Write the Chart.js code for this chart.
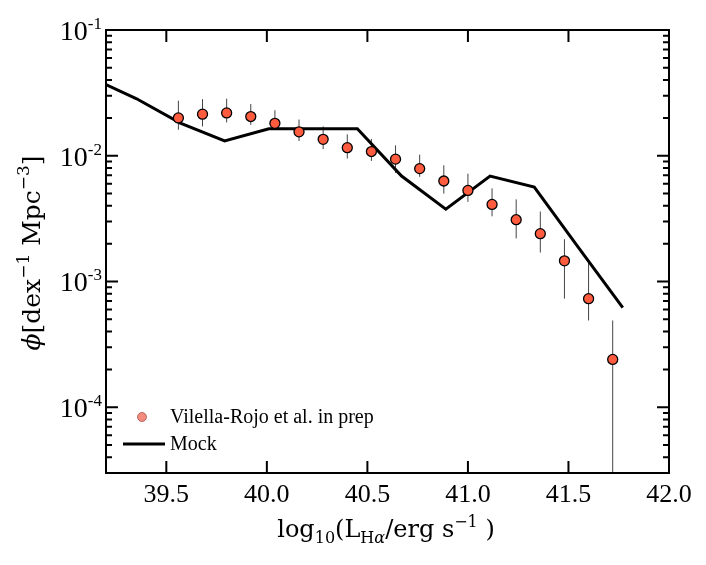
<!DOCTYPE html>
<html>
<head>
<meta charset="utf-8">
<script src="https://cdn.jsdelivr.net/npm/chart.js@4.4.1/dist/chart.umd.min.js"></script>
<style>
  html, body { margin: 0; padding: 0; background: #fff; }
  canvas { display: block; }
</style>
</head>
<body>
<canvas id="lfChart" width="706" height="565"></canvas>
<script>
// observed H-alpha luminosity function (points + error bars)
const lumBins = [39.56, 39.68, 39.80, 39.92, 40.04, 40.16, 40.28, 40.40, 40.52, 40.64,
                 40.76, 40.88, 41.00, 41.12, 41.24, 41.36, 41.48, 41.60, 41.72];
const phiObs = [0.0200, 0.0214, 0.0219, 0.0205, 0.0181, 0.0155, 0.0135, 0.0116, 0.0108, 0.0094,
                0.0079, 0.0063, 0.0053, 0.0041, 0.0031, 0.0024, 0.00146, 0.00073, 0.00024];
const phiHi = [0.0274, 0.0282, 0.0284, 0.0258, 0.0230, 0.0194, 0.0171, 0.0148, 0.0136, 0.0121,
               0.0102, 0.0084, 0.0072, 0.0055, 0.0045, 0.0036, 0.00217, 0.00142, 0.00049];
const phiLo = [0.0161, 0.0171, 0.0184, 0.0176, 0.0166, 0.0131, 0.0113, 0.0095, 0.0091, 0.0073,
               0.0068, 0.0050, 0.0043, 0.0033, 0.0022, 0.0017, 0.00073, 0.00049, 0.00001];

// mock catalogue
const mockLum = [39.13, 39.35, 39.57, 39.79, 40.01, 40.23, 40.45, 40.67, 40.89, 41.11, 41.33, 41.55, 41.77];
const mockPhi = [0.0414, 0.0285, 0.0182, 0.0131, 0.0164, 0.0164, 0.0164, 0.0069, 0.00376, 0.0069,
                 0.00564, 0.00186, 0.00062];

// axes
const xTicks = [39.5, 40.0, 40.5, 41.0, 41.5, 42.0];
const yTicks = [1e-1, 1e-2, 1e-3, 1e-4];
const yTickExp = ["-1", "-2", "-3", "-4"];

const SERIF = '"Liberation Serif", "DejaVu Serif", serif';
const WIDE = '"DejaVu Serif", "Liberation Serif", serif';

// draw a run of text pieces with sub/superscripts
function drawRich(ctx, parts, x, y, align, family) {
    const fam = family || SERIF;
    let total = 0;
    parts.forEach(p => {
        ctx.font = (p.italic ? "italic " : "") + p.size + "px " + fam;
        p.w = ctx.measureText(p.t).width;
        total += p.w;
    });
    let cx = x;
    if (align === "center") cx = x - total / 2;
    if (align === "right") cx = x - total;
    ctx.textAlign = "left";
    ctx.textBaseline = "alphabetic";
    parts.forEach(p => {
        ctx.font = (p.italic ? "italic " : "") + p.size + "px " + fam;
        ctx.fillText(p.t, cx, y + (p.dy || 0));
        cx += p.w;
    });
}

const framePlugin = {
    id: "frame",
    beforeDatasetsDraw(chart) {
        const ctx = chart.ctx, a = chart.chartArea;
        const xs = chart.scales.x, ys = chart.scales.y;
        ctx.save();
        ctx.beginPath();
        ctx.rect(a.left, a.top, a.right - a.left, a.bottom - a.top);
        ctx.clip();
        ctx.strokeStyle = "#444";
        ctx.lineWidth = 1;
        lumBins.forEach((l, i) => {
            const px = xs.getPixelForValue(l);
            ctx.beginPath();
            ctx.moveTo(px, ys.getPixelForValue(phiHi[i]));
            ctx.lineTo(px, ys.getPixelForValue(phiLo[i]));
            ctx.stroke();
        });
        ctx.restore();
    },
    afterDraw(chart) {
        const ctx = chart.ctx, a = chart.chartArea;
        const xs = chart.scales.x, ys = chart.scales.y;
        ctx.save();
        ctx.strokeStyle = "#000";
        ctx.fillStyle = "#000";
        ctx.lineWidth = 2;
        ctx.strokeRect(a.left, a.top, a.right - a.left, a.bottom - a.top);

        // x ticks (inward, top and bottom)
        xTicks.forEach(v => {
            const px = xs.getPixelForValue(v);
            ctx.beginPath();
            ctx.moveTo(px, a.bottom); ctx.lineTo(px, a.bottom - 12);
            ctx.moveTo(px, a.top); ctx.lineTo(px, a.top + 12);
            ctx.stroke();
            drawRich(ctx, [{ t: v.toFixed(1), size: 26 }], px, a.bottom + 29, "center");
        });

        // y ticks, major and minor, left and right
        for (let e = -5; e <= -1; e++) {
            for (let m = 1; m <= 9; m++) {
                const v = m * Math.pow(10, e);
                if (v < ys.min * 0.999 || v > ys.max * 1.001) continue;
                const py = ys.getPixelForValue(v);
                const len = m === 1 ? 12 : 6;
                ctx.beginPath();
                ctx.moveTo(a.left, py); ctx.lineTo(a.left + len, py);
                ctx.moveTo(a.right, py); ctx.lineTo(a.right - len, py);
                ctx.stroke();
            }
        }
        yTicks.forEach((v, i) => {
            const py = ys.getPixelForValue(v);
            drawRich(ctx, [{ t: "10", size: 28 }, { t: yTickExp[i], size: 17, dy: -11 }],
                     a.left - 4, py + 10, "right");
        });

        // axis titles
        drawRich(ctx, [
            { t: "log", size: 24 }, { t: "10", size: 16, dy: 6 },
            { t: "(L", size: 24 }, { t: "H", size: 16, dy: 6 }, { t: "\u03b1", size: 16, dy: 6, italic: true },
            { t: "/erg s", size: 24 }, { t: "\u22121", size: 16, dy: -10 },
            { t: " )", size: 24 }
        ], 386, 537, "center", WIDE);

        ctx.save();
        ctx.translate(40, 253);
        ctx.rotate(-Math.PI / 2);
        drawRich(ctx, [
            { t: "\u03d5", size: 25, italic: true },
            { t: "[dex", size: 25 }, { t: "\u22121", size: 17, dy: -11 },
            { t: " Mpc", size: 25 }, { t: "\u22123", size: 17, dy: -11 },
            { t: "]", size: 25 }
        ], 0, 0, "center", WIDE);
        ctx.restore();

        // legend
        ctx.fillStyle = "rgba(240, 110, 95, 0.8)";
        ctx.strokeStyle = "rgba(150, 60, 50, 0.8)";
        ctx.lineWidth = 0.8;
        ctx.beginPath();
        ctx.arc(142, 417, 4.5, 0, Math.PI * 2);
        ctx.fill();
        ctx.stroke();
        ctx.strokeStyle = "#000";
        ctx.lineWidth = 3;
        ctx.beginPath();
        ctx.moveTo(123, 444); ctx.lineTo(165, 444);
        ctx.stroke();
        ctx.fillStyle = "#000";
        drawRich(ctx, [{ t: "Vilella-Rojo et al. in prep", size: 20 }], 170, 423, "left");
        drawRich(ctx, [{ t: "Mock", size: 20 }], 170, 450, "left");
        ctx.restore();
    }
};

new Chart(document.getElementById("lfChart").getContext("2d"), {
    type: "scatter",
    data: {
        datasets: [{
            label: "Vilella-Rojo et al. in prep",
            data: lumBins.map((l, i) => ({ x: l, y: phiObs[i] })),
            backgroundColor: "#ff5c3f",
            borderColor: "#000",
            borderWidth: 1.3,
            pointRadius: 5,
            order: 1
        }, {
            label: "Mock",
            type: "line",
            data: mockLum.map((l, i) => ({ x: l, y: mockPhi[i] })),
            borderColor: "#000",
            borderWidth: 3,
            pointRadius: 0,
            fill: false,
            tension: 0,
            clip: 0,
            order: 2
        }]
    },
    options: {
        responsive: false,
        animation: false,
        layout: { padding: { left: 0, right: 37, top: 30, bottom: 0 } },
        plugins: { legend: { display: false }, tooltip: { enabled: false } },
        scales: {
            x: {
                type: "linear", min: 39.2, max: 42.0,
                grid: { display: false }, border: { display: false },
                ticks: { display: false },
                afterFit(s) { s.height = 92; }
            },
            y: {
                type: "logarithmic", min: 3e-5, max: 0.1,
                grid: { display: false }, border: { display: false },
                ticks: { display: false },
                afterFit(s) { s.width = 106; }
            }
        }
    },
    plugins: [framePlugin]
});
</script>
</body>
</html>
